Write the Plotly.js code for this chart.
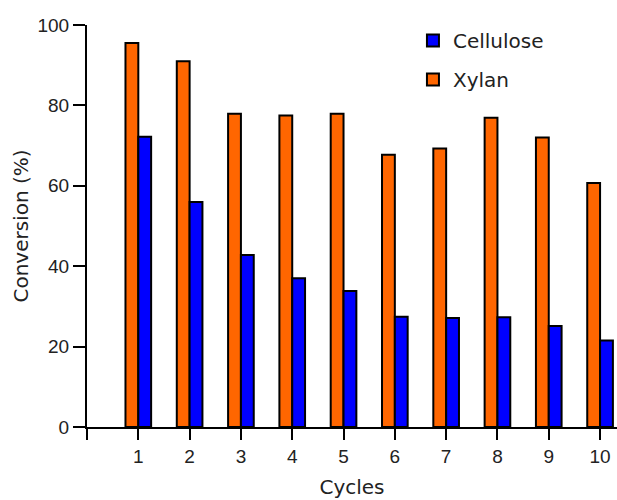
<!DOCTYPE html>
<html>
<head>
<meta charset="utf-8">
<script src="https://cdn.plot.ly/plotly-3.0.1.min.js"></script>
<style>html,body{margin:0;padding:0;background:#fff;}#chart{width:617px;height:500px;}</style>
</head>
<body>
<div id="chart"></div>
<script>
const cycles = [1, 2, 3, 4, 5, 6, 7, 8, 9, 10];
const xylan = [95.5, 91.0, 77.9, 77.5, 77.9, 67.7, 69.3, 76.9, 72.0, 60.7];
const cellulose = [72.2, 56.0, 42.8, 37.0, 33.8, 27.4, 27.1, 27.3, 25.1, 21.5];
const xTickVals = [0, 1, 2, 3, 4, 5, 6, 7, 8, 9, 10];
const xTickText = ["", "1", "2", "3", "4", "5", "6", "7", "8", "9", "10"];
const yTickVals = [0, 20, 40, 60, 80, 100];

const traces = [
  {type: 'bar', name: 'Xylan', x: cycles, y: xylan, legendrank: 2, legendgroup: 'xy',
   marker: {color: '#FF6600', line: {color: '#000', width: 2}}},
  {type: 'bar', name: 'Cellulose', x: cycles, y: cellulose, legendrank: 1, legendgroup: 'ce',
   marker: {color: '#0000FF', line: {color: '#000', width: 2}}}
];

const tickFont = {family: 'Liberation Sans', size: 19, color: '#222'};
const titleFont = {family: 'DejaVu Sans', size: 20, color: '#222'};

const layout = {
  width: 617, height: 500,
  margin: {l: 87, r: 0, t: 25, b: 73},
  paper_bgcolor: '#fff', plot_bgcolor: '#fff',
  barmode: 'group', bargap: 0.5, bargroupgap: 0,
  showlegend: true,
  legend: {x: 0.615, y: 1.01, xanchor: 'left', yanchor: 'top',
    traceorder: 'grouped', tracegroupgap: 10,
    font: {family: 'DejaVu Sans', size: 20, color: '#222'}, bgcolor: 'rgba(0,0,0,0)'},
  xaxis: {
    range: [0, 10.33], tickvals: xTickVals, ticktext: xTickText,
    showgrid: false, zeroline: false, showline: true, linecolor: '#000', linewidth: 2,
    ticks: 'outside', ticklen: 11, tickwidth: 2, tickcolor: '#000',
    tickfont: tickFont,
    title: {text: 'Cycles', standoff: 14, font: titleFont}
  },
  yaxis: {
    range: [0, 100], tickvals: yTickVals,
    showgrid: false, zeroline: false, showline: true, linecolor: '#000', linewidth: 2,
    ticks: 'outside', ticklen: 12, tickwidth: 2, tickcolor: '#000',
    tickfont: tickFont,
    title: {text: 'Conversion (%)', standoff: 3, font: titleFont}
  }
};

Plotly.newPlot('chart', traces, layout, {displayModeBar: false, staticPlot: true});
</script>
</body>
</html>
